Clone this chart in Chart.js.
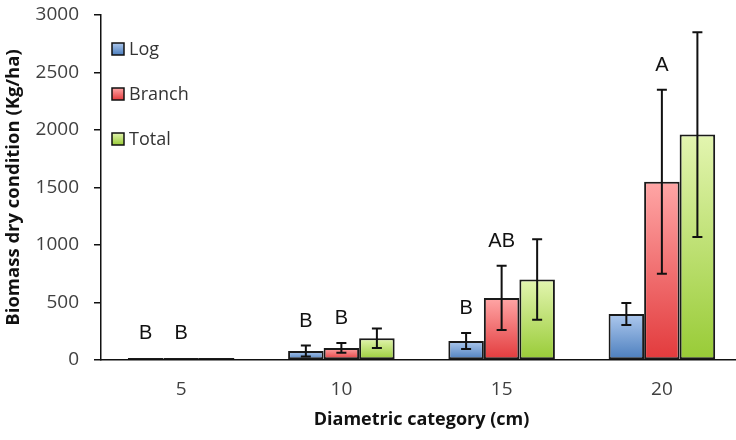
<!DOCTYPE html>
<html>
<head>
<meta charset="utf-8">
<script src="https://cdn.jsdelivr.net/npm/chart.js@4.4.1/dist/chart.umd.min.js"></script>
<style>
  html, body { margin: 0; padding: 0; background: #fff; overflow: hidden; }
  #wrap { position: relative; width: 742px; height: 440px; }
</style>
</head>
<body>
<div id="wrap"><canvas id="chart"></canvas></div>
<script>
// Data
const categories = ['5', '10', '15', '20'];
const seriesLabels = ['Log', 'Branch', 'Total'];
const logValues = [18, 78, 165, 400];
const branchValues = [18, 105, 540, 1550];
const totalValues = [18, 190, 700, 1960];
const logErr = [0, 48, 70, 95];
const branchErr = [0, 43, 280, 800];
const totalErr = [0, 85, 350, 890];
const logLetters = ['B', 'B', 'B', ''];
const branchLetters = ['B', 'B', 'AB', 'A'];
const totalLetters = ['', '', '', ''];
const yTicks = [0, 500, 1000, 1500, 2000, 2500, 3000];

const FONT = "'Open Sans', 'DejaVu Sans', sans-serif";

// top / bottom colours of each bar's vertical gradient
const gradients = [
  ['#aec9ee', '#4a7dbd'],
  ['#ffa6a6', '#e23a3c'],
  ['#e3f5b0', '#98cb36'],
];

function barGradient(idx) {
  return (ctx) => {
    const chart = ctx.chart;
    const y = chart.scales.y;
    if (!chart.chartArea || !y || ctx.parsed == null) return gradients[idx][1];
    const top = y.getPixelForValue(ctx.parsed.y);
    const bottom = y.getPixelForValue(0);
    if (!isFinite(top)) return gradients[idx][1];
    if (bottom - top < 4) return '#1a1a1a';
    const g = chart.ctx.createLinearGradient(0, top, 0, bottom);
    g.addColorStop(0, gradients[idx][0]);
    g.addColorStop(1, gradients[idx][1]);
    return g;
  };
}

const errors = [logErr, branchErr, totalErr];
const letters = [logLetters, branchLetters, totalLetters];

// error bars and significance letters
const errorBarPlugin = {
  id: 'errorBars',
  afterDatasetsDraw(chart) {
    const { ctx } = chart;
    const y = chart.scales.y;
    ctx.save();
    chart.data.datasets.forEach((ds, di) => {
      const meta = chart.getDatasetMeta(di);
      meta.data.forEach((bar, i) => {
        const v = ds.data[i];
        const e = errors[di][i];
        const x = bar.x;
        let topPx = y.getPixelForValue(v);
        if (e > 0) {
          const hi = y.getPixelForValue(v + e);
          const lo = y.getPixelForValue(v - e);
          ctx.strokeStyle = '#111';
          ctx.lineWidth = 2;
          ctx.beginPath();
          ctx.moveTo(x, hi); ctx.lineTo(x, lo);
          ctx.moveTo(x - 5, hi); ctx.lineTo(x + 5, hi);
          ctx.moveTo(x - 5, lo); ctx.lineTo(x + 5, lo);
          ctx.stroke();
          topPx = hi;
        }
        const t = letters[di][i];
        if (t) {
          ctx.fillStyle = '#111';
          ctx.font = "20px 'Liberation Sans', Arial, sans-serif";
          ctx.textAlign = 'center';
          ctx.textBaseline = 'middle';
          ctx.fillText(t, x, topPx - 24);
        }
      });
    });
    ctx.restore();
  }
};

// legend drawn inside the plot area, top-left
const insideLegend = {
  id: 'insideLegend',
  afterDraw(chart) {
    const { ctx } = chart;
    const left = chart.chartArea.left + 11;
    const top0 = chart.chartArea.top + 34;
    ctx.save();
    seriesLabels.forEach((label, i) => {
      const cy = top0 + i * 45;
      const g = ctx.createLinearGradient(0, cy - 6, 0, cy + 6);
      g.addColorStop(0, gradients[i][0]);
      g.addColorStop(1, gradients[i][1]);
      ctx.fillStyle = g;
      ctx.fillRect(left, cy - 6, 12, 12);
      ctx.strokeStyle = '#111';
      ctx.lineWidth = 1.5;
      ctx.strokeRect(left, cy - 6, 12, 12);
      ctx.fillStyle = '#333';
      ctx.font = '18px ' + FONT;
      ctx.textAlign = 'left';
      ctx.textBaseline = 'middle';
      ctx.fillText(label, left + 17, cy + 1);
    });
    ctx.restore();
  }
};

const valueSets = [logValues, branchValues, totalValues];

new Chart(document.getElementById('chart'), {
  type: 'bar',
  data: {
    labels: categories,
    datasets: seriesLabels.map((label, i) => ({
      label,
      data: valueSets[i],
      backgroundColor: barGradient(i),
      borderColor: '#1a1a1a',
      borderWidth: 2,
      borderSkipped: false,
      barPercentage: 1,
      categoryPercentage: 0.665,
    })),
  },
  options: {
    responsive: true,
    maintainAspectRatio: false,
    animation: false,
    layout: { padding: { top: 15, right: 0, left: 0, bottom: 0 } },
    scales: {
      x: {
        grid: { display: false, drawTicks: false },
        border: { display: true, color: '#111', width: 1.5 },
        ticks: { color: '#404040', font: { family: FONT, size: 19 }, padding: 18 },
        title: {
          display: true,
          text: 'Diametric category (cm)',
          color: '#111',
          font: { family: FONT, size: 18, weight: 'bold' },
          padding: { top: 0, bottom: 9 },
        },
        afterFit(scale) {
          scale.height = 80;
          scale.paddingLeft = 0;
          scale.paddingRight = 0;
        },
      },
      y: {
        min: 0,
        max: 3000,
        afterBuildTicks(scale) { scale.ticks = yTicks.map(v => ({ value: v })); },
        grid: { drawOnChartArea: false, drawTicks: true, tickLength: 7, color: '#111', lineWidth: 1.5 },
        border: { display: true, color: '#111', width: 1.5 },
        ticks: {
          color: '#404040',
          font: { family: FONT, size: 19 },
          padding: 15,
          callback: (v) => String(v),
        },
        title: {
          display: true,
          text: 'Biomass dry condition (Kg/ha)',
          color: '#111',
          font: { family: FONT, size: 18.5, weight: 'bold' },
          padding: { top: 3, bottom: 0 },
        },
        afterFit(scale) {
          scale.width = 101;
          scale.paddingTop = 0;
          scale.paddingBottom = 0;
        },
      },
    },
    plugins: {
      legend: { display: false },
      tooltip: { enabled: false },
    },
  },
  plugins: [errorBarPlugin, insideLegend],
});
</script>
</body>
</html>
